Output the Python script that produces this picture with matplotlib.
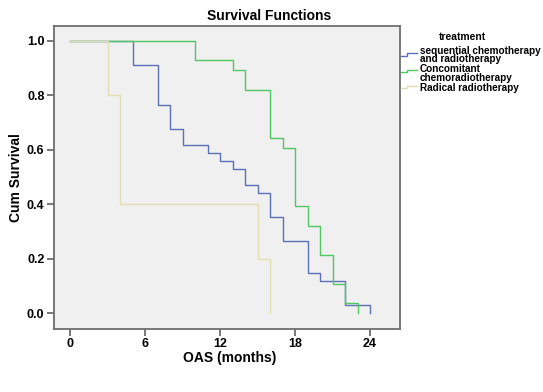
import matplotlib
matplotlib.use("Agg")
import matplotlib.pyplot as plt
from matplotlib.lines import Line2D

# ---- data ----
seq_time = [0, 5, 7, 8, 9, 11, 12, 13, 14, 15, 16, 17, 19, 20, 22, 24]
seq_surv = [1.0, 0.912, 0.765, 0.676, 0.618, 0.588, 0.559, 0.529, 0.471,
            0.441, 0.353, 0.265, 0.147, 0.118, 0.029, 0.0]

con_time = [0, 10, 13, 14, 16, 17, 18, 19, 20, 21, 22, 23]
con_surv = [1.0, 0.929, 0.893, 0.821, 0.643, 0.607, 0.393, 0.321, 0.214,
            0.107, 0.036, 0.0]

rad_time = [0, 3, 4, 15, 16]
rad_surv = [1.0, 0.8, 0.4, 0.2, 0.0]

labels = ["sequential chemotherapy\nand radiotherapy",
          "Concomitant\nchemoradiotherapy",
          "Radical radiotherapy"]
x_ticks = [0, 6, 12, 18, 24]
y_ticks = [0.0, 0.2, 0.4, 0.6, 0.8, 1.0]

colors = ["#5b70bb", "#4fc95f", "#e2ddb2"]

W, H = 543, 392
plt.rcParams['font.family'] = ['Liberation Sans', 'DejaVu Sans']
plt.rcParams['font.weight'] = 'bold'
fig = plt.figure(figsize=(W / 100, H / 100), dpi=100)
fig.patch.set_facecolor('white')

def fx(px):
    return px / W

def fy(py):
    return 1 - py / H

left, right, top, bottom = 53.5, 399.5, 25.7, 329.0
ax = fig.add_axes([fx(left), fy(bottom), fx(right) - fx(left), fy(top) - fy(bottom)])
ax.set_facecolor('#f0f0f0')

ax.step(seq_time, seq_surv, where='post', color=colors[0], lw=1.0, zorder=2)
ax.step(con_time, con_surv, where='post', color=colors[1], lw=1.0, zorder=3)
ax.step(rad_time, rad_surv, where='post', color=colors[2], lw=1.0, zorder=4)

ax.set_xlim(-1.32, 26.35)
ax.set_ylim(-0.058, 1.056)
ax.set_xticks(x_ticks)
ax.set_xticklabels([str(t) for t in x_ticks])
ax.set_yticks(y_ticks)
ax.set_yticklabels([f"{v:.1f}" for v in y_ticks])
ax.tick_params(direction='out', length=5, width=1.2, color='#606060',
               labelsize=9, pad=1.5, top=False, right=False)
for lab in ax.get_xticklabels() + ax.get_yticklabels():
    lab.set_fontweight('bold')
for s in ax.spines.values():
    s.set_color('#6e6e6e')
    s.set_linewidth(1.3)

fig.text(fx(229.5), fy(358), "OAS (months)", ha='center', va='center',
         fontsize=10, fontweight='bold')
fig.text(fx(16), fy(178), "Cum Survival", ha='center', va='center',
         rotation=90, fontsize=10, fontweight='bold')
fig.text(fx(268.7), fy(16.5), "Survival Functions", ha='center', va='center',
         fontsize=10, fontweight='bold')

# ---- legend (manual, outside right) ----
fig.text(fx(462), fy(37), "treatment", ha='center', va='center',
         fontsize=7.4, fontweight='bold')
icon_y = [(55.5, 52.5), (72.0, 69.5), (88.0, 85.5)]
text_lines = [[(50.7, "sequential chemotherapy"), (59.3, "and radiotherapy")],
              [(69.0, "Concomitant"), (78.3, "chemoradiotherapy")],
              [(88.0, "Radical radiotherapy")]]
for c, (lo, up), lines in zip(colors, icon_y, text_lines):
    xs = [fx(401), fx(407), fx(407), fx(417)]
    ys = [fy(lo), fy(lo), fy(up), fy(up)]
    fig.add_artist(Line2D(xs, ys, color=c, lw=1.0, transform=fig.transFigure))
    for yy, t in lines:
        fig.text(fx(420), fy(yy), t, ha='left', va='center',
                 fontsize=7.2, fontweight='bold')

fig.savefig("out.png", dpi=100)
